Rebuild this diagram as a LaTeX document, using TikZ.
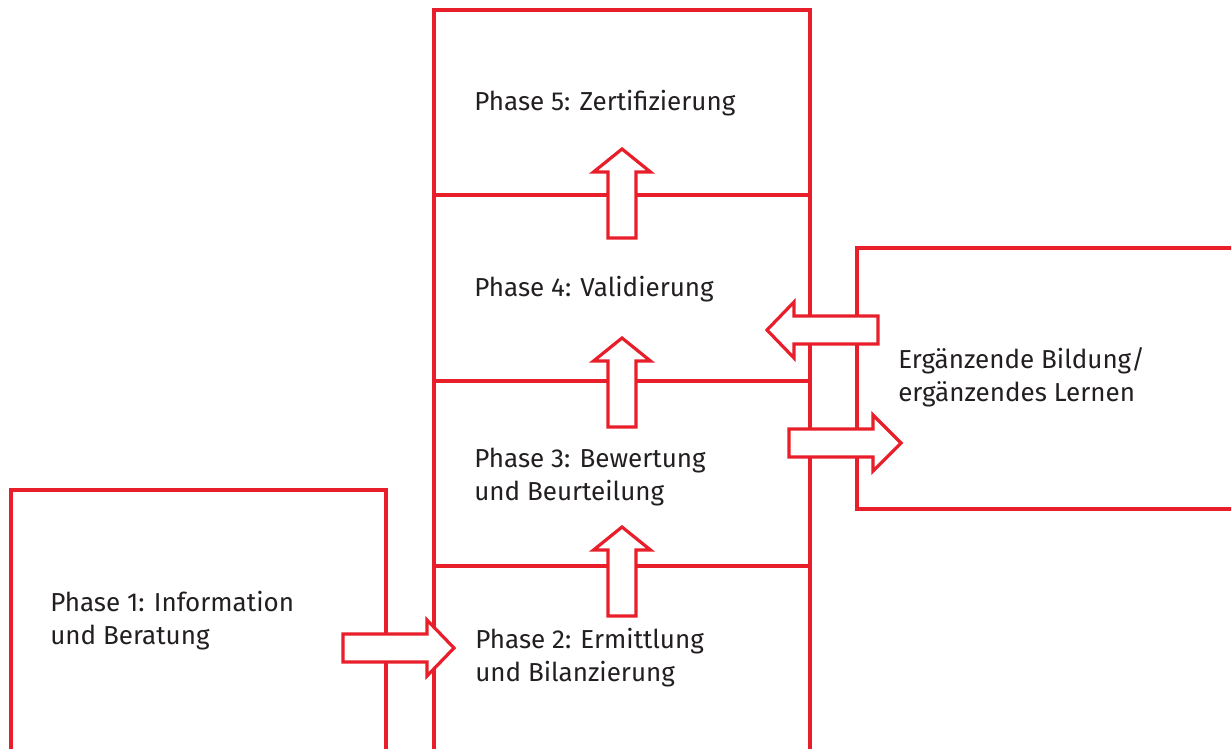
\documentclass[tikz,border=0pt]{standalone}
\usepackage{fontspec}
\setmainfont{Fira Sans}
\definecolor{boxred}{RGB}{232,30,42}
\definecolor{txt}{RGB}{35,31,32}
\begin{document}
\begin{tikzpicture}[x=0.75pt,y=-0.75pt,
  frame/.style={draw=boxred,line width=2.4pt},
  blk/.style={draw=boxred,fill=white,line width=2.4pt,line join=miter},
  lbl/.style={anchor=base west,inner sep=0pt,align=left,text=txt,
    font=\fontsize{19.5}{24.75}\selectfont}]
\useasboundingbox (0,0) rectangle (1231,749);
% boxes
\draw[frame] (434,760) -- (434,10) -- (810,10) -- (810,760);
\draw[frame] (434,195) -- (810,195);
\draw[frame] (434,381) -- (810,381);
\draw[frame] (434,566) -- (810,566);
\draw[frame] (11,760) -- (11,490) -- (386,490) -- (386,760);
\draw[frame] (1240,248) -- (857,248) -- (857,509) -- (1240,509);
% labels (base = baseline of last line)
\node[lbl] (p5) at (474,110) {Phase 5: Zertifizierung};
\node[lbl] (p4) at (474,296) {Phase 4: Validierung};
\node[lbl] (p3) at (474,500) {Phase 3: Bewertung\\und Beurteilung};
\node[lbl] (p2) at (475,681) {Phase 2: Ermittlung\\und Bilanzierung};
\node[lbl] (p1) at (50,644) {Phase 1: Information\\und Beratung};
\node[lbl] (eb) at (898,401) {Ergänzende Bildung/\\ergänzendes Lernen};
% up arrows
\foreach \b/\t in {238/149, 427/338, 616/527}{
  \draw[blk] (608,\b) -- (608,\t+23) -- (593.5,\t+23) -- (622,\t) -- (650.5,\t+23) -- (636,\t+23) -- (636,\b) -- cycle;
}
% left arrow
\draw[blk] (878,316) -- (794,316) -- (794,302) -- (767,330) -- (794,358) -- (794,344) -- (878,344) -- cycle;
% right arrow
\draw[blk] (789,429) -- (873,429) -- (873,415) -- (901,443) -- (873,471) -- (873,457) -- (789,457) -- cycle;
% phase 1 arrow
\draw[blk] (343,634) -- (427,634) -- (427,620) -- (454,648) -- (427,676) -- (427,662) -- (343,662) -- cycle;
\end{tikzpicture}
\end{document}
